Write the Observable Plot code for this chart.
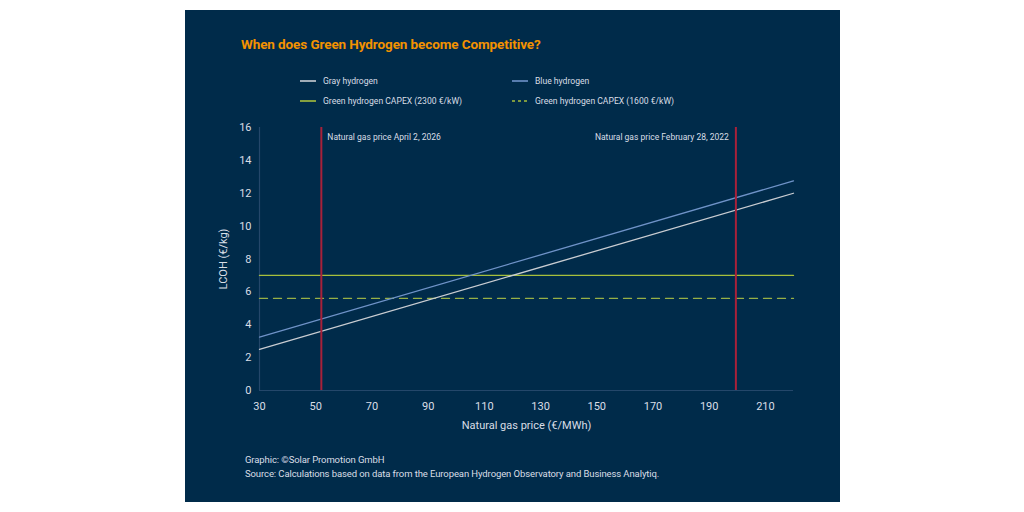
<!DOCTYPE html>
<html>
<head>
<meta charset="utf-8">
<script src="https://cdn.jsdelivr.net/npm/d3@7"></script>
<script src="https://cdn.jsdelivr.net/npm/@observablehq/plot@0.6"></script>
<style>
  html, body { margin: 0; padding: 0; background: #ffffff; }
  body { width: 1024px; height: 512px; position: relative; overflow: hidden; font-family: Roboto, "Noto Sans", sans-serif; }
  #panel { position: absolute; left: 185px; top: 10px; width: 655px; height: 492px; background: #002b4a; }
  #title { position: absolute; left: 56px; top: 26px; color: #f39200; font-weight: 700; font-size: 13.5px; letter-spacing: -0.1px; white-space: nowrap; }
  .leg { position: absolute; display: flex; align-items: center; color: #d9dee6; font-size: 8.6px; white-space: nowrap; height: 12px; }
  .leg svg { margin-right: 7px; }
  #chart { position: absolute; left: 0; top: 110px; }
  .cap { position: absolute; left: 60px; color: #d9dee6; font-size: 9.5px; letter-spacing: -0.1px; white-space: nowrap; }
</style>
</head>
<body>
<div id="panel">
  <div id="title">When does Green Hydrogen become Competitive?</div>
  <div id="legend"></div>
  <div id="chart"></div>
  <div class="cap" style="top:444px">Graphic: ©Solar Promotion GmbH</div>
  <div class="cap" style="top:458px">Source: Calculations based on data from the European Hydrogen Observatory and Business Analytiq.</div>
</div>
<script>
// Natural gas price (€/MWh) at the ends of each cost line
const gasPrice = [30, 220];
// Levelized cost of hydrogen (€/kg) at those gas prices
const grayLCOH = [2.5, 12.0];
const blueLCOH = [3.25, 12.75];
// Green hydrogen cost does not depend on the gas price
const green2300 = 7.0;
const green1600 = 5.6;
// Reference gas prices
const refPrices = [52, 199.5];
const refLabels = ["Natural gas price April 2, 2026", "Natural gas price February 28, 2022"];
// Axis ticks
const xTicks = [30, 50, 70, 90, 110, 130, 150, 170, 190, 210];
const yTicks = [0, 2, 4, 6, 8, 10, 12, 14, 16];

const seriesNames = ["Gray hydrogen", "Blue hydrogen", "Green hydrogen CAPEX (2300 €/kW)", "Green hydrogen CAPEX (1600 €/kW)"];
const colors = {gray: "#c9cdd2", blue: "#6f93c8", green: "#a6bf3c", greenDash: "#97b046", red: "#a8213a", axis: "#24476a", text: "#d9dee6"};

// Build line tables
const grayData = gasPrice.map((x, i) => ({x, y: grayLCOH[i]}));
const blueData = gasPrice.map((x, i) => ({x, y: blueLCOH[i]}));
const green2300Data = gasPrice.map(x => ({x, y: green2300}));
const green1600Data = gasPrice.map(x => ({x, y: green1600}));
const refData = refPrices.map((x, i) => ({x, label: refLabels[i]}));

// Legend (two rows, two columns)
const legendItems = [
  {name: seriesNames[0], color: colors.gray, dash: null, left: 115, top: 65},
  {name: seriesNames[1], color: colors.blue, dash: null, left: 327, top: 65},
  {name: seriesNames[2], color: colors.green, dash: null, left: 115, top: 85},
  {name: seriesNames[3], color: colors.green, dash: "3,3", left: 327, top: 85}
];
const legend = document.getElementById("legend");
for (const it of legendItems) {
  const d = document.createElement("div");
  d.className = "leg";
  d.style.left = it.left + "px";
  d.style.top = it.top + "px";
  d.innerHTML = `<svg width="16" height="4"><line x1="0" x2="16" y1="2" y2="2" stroke="${it.color}" stroke-width="1.6" ${it.dash ? `stroke-dasharray="${it.dash}"` : ""}/></svg><span>${it.name}</span>`;
  legend.appendChild(d);
}

const chart = Plot.plot({
  width: 655,
  height: 320,
  marginTop: 7,
  marginBottom: 50,
  marginLeft: 74,
  marginRight: 47,
  style: {background: "transparent", color: colors.text, fontFamily: "Roboto, sans-serif", fontSize: "11px"},
  x: {domain: [30, 220]},
  y: {domain: [0, 16]},
  marks: [
    Plot.ruleY([0], {stroke: colors.axis, strokeWidth: 1.2}),
    Plot.ruleX([30], {stroke: colors.axis, strokeWidth: 1.2}),
    Plot.axisX({ticks: xTicks, tickSize: 0, tickPadding: 12, label: "Natural gas price (€/MWh)", labelAnchor: "center", labelArrow: "none", labelOffset: 38, fontSize: 11}),
    Plot.axisY({ticks: yTicks, tickSize: 0, tickPadding: 8, label: "LCOH (€/kg)", labelAnchor: "center", labelArrow: "none", labelOffset: 40, fontSize: 11}),
    Plot.line(green2300Data, {x: "x", y: "y", stroke: colors.green, strokeWidth: 1.3}),
    Plot.line(green1600Data, {x: "x", y: "y", stroke: colors.greenDash, strokeWidth: 1.3, strokeDasharray: "8,6"}),
    Plot.line(grayData, {x: "x", y: "y", stroke: colors.gray, strokeWidth: 1.3}),
    Plot.line(blueData, {x: "x", y: "y", stroke: colors.blue, strokeWidth: 1.3}),
    Plot.ruleX(refData, {x: "x", stroke: colors.red, strokeWidth: 2}),
    // April 2026 label sits right of its rule, February 2022 label left of it
    Plot.text(refData.slice(0, 1), {x: "x", text: "label", textAnchor: "start", dx: 6, dy: 6, frameAnchor: "top", fill: colors.text, fontSize: 8.5}),
    Plot.text(refData.slice(1), {x: "x", text: "label", textAnchor: "end", dx: -7, dy: 6, frameAnchor: "top", fill: colors.text, fontSize: 8.5})
  ]
});
document.getElementById("chart").appendChild(chart);
</script>
</body>
</html>
